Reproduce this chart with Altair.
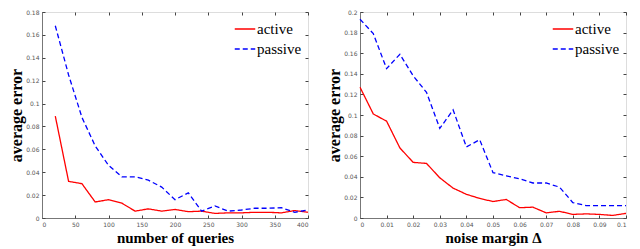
import altair as alt
import pandas as pd

# ---- data ----
queries = [20, 40, 60, 80, 100, 120, 140, 160, 180, 200,
           220, 240, 260, 280, 300, 320, 340, 360, 380, 400]
active_q = [0.089, 0.032, 0.030, 0.014, 0.016, 0.013, 0.006, 0.008, 0.006, 0.0075,
            0.0055, 0.006, 0.004, 0.0045, 0.0045, 0.005, 0.005, 0.0045, 0.0065, 0.005]
passive_q = [0.168, 0.125, 0.088, 0.063, 0.046, 0.036, 0.036, 0.033, 0.027, 0.016,
             0.022, 0.006, 0.0105, 0.006, 0.007, 0.0085, 0.0085, 0.009, 0.005, 0.007]

margins = [0.0, 0.005, 0.01, 0.015, 0.02, 0.025, 0.03, 0.035, 0.04, 0.045, 0.05,
           0.055, 0.06, 0.065, 0.07, 0.075, 0.08, 0.085, 0.09, 0.095, 0.1]
active_m = [0.127, 0.101, 0.094, 0.068, 0.054, 0.053, 0.039, 0.029, 0.023, 0.019, 0.016,
            0.018, 0.010, 0.0105, 0.005, 0.0065, 0.0035, 0.004, 0.0035, 0.0025, 0.0045]
passive_m = [0.193, 0.179, 0.145, 0.159, 0.138, 0.122, 0.087, 0.105, 0.069, 0.076, 0.044,
             0.041, 0.038, 0.034, 0.034, 0.030, 0.015, 0.012, 0.012, 0.012, 0.012]

series_names = ["active", "passive"]
series_colors = ["#ff0000", "#0000ff"]

x_ticks_q = [0, 50, 100, 150, 200, 250, 300, 350, 400]
y_ticks_q = [0, 0.02, 0.04, 0.06, 0.08, 0.1, 0.12, 0.14, 0.16, 0.18]
x_ticks_m = [0, 0.01, 0.02, 0.03, 0.04, 0.05, 0.06, 0.07, 0.08, 0.09, 0.1]
y_ticks_m = [0, 0.02, 0.04, 0.06, 0.08, 0.1, 0.12, 0.14, 0.16, 0.18, 0.2]


def long_df(xs, a, p):
    rows = []
    for x, v in zip(xs, a):
        rows.append({"x": x, "y": v, "series": "active"})
    for x, v in zip(xs, p):
        rows.append({"x": x, "y": v, "series": "passive"})
    return pd.DataFrame(rows)


W, H = 266, 206
SERIF = "Liberation Serif"
SANS = "DejaVu Sans"
GREY = "#777777"


def panel(df, xtitle, xdom, xticks, ydom, yticks):
    xs = alt.Scale(domain=xdom, nice=False, zero=False)
    ys = alt.Scale(domain=ydom, nice=False)
    legend = alt.Legend(
        title=None, orient="top-right", offset=4,
        labelFont=SERIF, labelFontSize=15, labelColor="black",
        symbolType="stroke", symbolSize=420, symbolStrokeWidth=1.3,
        rowPadding=1, labelOffset=1, padding=2,
    )
    main_x = alt.Axis(values=xticks, format=".2~f", ticks=False, grid=False,
                      domainColor=GREY, labelFont=SANS, labelFontSize=6,
                      labelColor="#555555", labelPadding=3,
                      title=xtitle, titleFont=SERIF, titleFontSize=15,
                      titleFontWeight="bold", titleColor="black", titlePadding=3)
    main_y = alt.Axis(values=yticks, format=".2~f", ticks=False, grid=False,
                      domainColor=GREY, labelFont=SANS, labelFontSize=6,
                      labelColor="#555555", labelPadding=3,
                      title="average error", titleFont=SERIF, titleFontSize=16,
                      titleFontWeight="bold", titleColor="black", titlePadding=1)
    lines = alt.Chart(df).mark_line(strokeWidth=1.3).encode(
        x=alt.X("x:Q", scale=xs, axis=main_x),
        y=alt.Y("y:Q", scale=ys, axis=main_y),
        color=alt.Color("series:N",
                        scale=alt.Scale(domain=series_names, range=series_colors),
                        legend=legend),
        strokeDash=alt.StrokeDash("series:N",
                                  scale=alt.Scale(domain=series_names,
                                                  range=[[1, 0], [5, 3]]),
                                  legend=legend),
    )

    # tick-only axes drawn inside the frame (MATLAB-style inward ticks)
    def tick_axis(orient, vals, off):
        return alt.Axis(orient=orient, values=vals, offset=off, tickSize=3,
                        tickColor="#444444", domain=False, labels=False,
                        grid=False, title=None)

    ticks_a = alt.Chart(df).mark_line(opacity=0).encode(
        x=alt.X("x:Q", scale=xs, axis=tick_axis("bottom", xticks, -3)),
        y=alt.Y("y:Q", scale=ys, axis=tick_axis("left", yticks, -3)),
        detail="series:N",
    )
    ticks_b = alt.Chart(df).mark_line(opacity=0).encode(
        x=alt.X("x:Q", scale=xs, axis=tick_axis("bottom", xticks, -H)),
        y=alt.Y("y:Q", scale=ys, axis=tick_axis("left", yticks, -W)),
        detail="series:N",
    )
    return alt.layer(lines, ticks_a, ticks_b).resolve_axis(
        x="independent", y="independent"
    ).properties(width=W, height=H)


left = panel(long_df(queries, active_q, passive_q), "number of queries",
             [0, 400], x_ticks_q, [0, 0.18], y_ticks_q)
right = panel(long_df(margins, active_m, passive_m), "noise margin Δ",
              [0, 0.1], x_ticks_m, [0, 0.2], y_ticks_m)

chart = alt.hconcat(left, right, spacing=14).resolve_scale(
    x="independent", y="independent",
    color="independent", strokeDash="independent"
).resolve_legend(color="independent", strokeDash="independent").properties(
    padding={"left": 0, "top": 0, "right": 0, "bottom": 0}
).configure_view(stroke=GREY, strokeWidth=1).configure(background="white")

chart.save("out.html", embed_options={"renderer": "svg", "actions": False})
